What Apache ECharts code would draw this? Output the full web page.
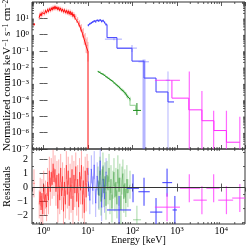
<!DOCTYPE html>
<html><head><meta charset="utf-8">
<script src="https://cdn.jsdelivr.net/npm/echarts@6/dist/echarts.min.js"></script>
<style>html,body{margin:0;padding:0;background:#fff}#c{width:249px;height:248px}</style>
</head><body><div id="c"></div>
<script>
// ---------- tick labels ----------
const xTickExp = [0, 1, 2, 3, 4];          // energy axis: 10^0 ... 10^4 keV
const yTickVals = [1e-7, 1e-6, 1e-5, 1e-4, 1e-3, 1e-2, 1e-1, 1, 10];
const yTickExp = ['−7', '−6', '−5', '−4', '−3', '−2', '−1', '0', '1'];
const rTickVals = [-2, -1, 0, 1, 2];
const rMinorVals = [-2.5, -1.5, -0.5, 0.5, 1.5, 2.5];
const minorMult = [2, 3, 4, 5, 6, 7, 8, 9];

// ---------- red instrument (0.6 - 10 keV) ----------
const red0 = { e: 0.61, eLo: 0.575, eHi: 0.645, v: 4.3, dex: 0.08, res: 0.3 };
const redE = [0.80,0.84,0.88,0.92,0.96,1.01,1.06,1.11,1.17,1.23,1.29,1.35,1.42,1.49,1.56,1.64,1.72,1.81,1.90,2.00,2.10,2.20,2.31,2.43,2.55,2.68,2.81,2.95,3.10,3.26,3.42,3.59,3.77,3.96,4.16,4.37,4.59,4.82,5.06,5.31,5.58,5.86,6.15,6.46,6.78,7.12,7.48,7.85,8.24,8.65,9.08,9.54,10.0];
const redV = [11,19,14,22,17,27,19,30,22,35,25,39,28,44,32,50,36,55,37,50,33,46,30,42,27,37,24,34,22,31,20,29,18,27,16,23,13,18,10.5,13,7.2,8.5,4.6,5.0,2.5,2.6,1.2,1.3,0.5,0.55,0.2,0.22,0.09];
const redErrDex = [0.14,0.13,0.13,0.12,0.12,0.11,0.11,0.1,0.1,0.1,0.1,0.09,0.09,0.09,0.09,0.09,0.09,0.09,0.09,0.09,0.09,0.09,0.09,0.09,0.09,0.09,0.1,0.1,0.1,0.1,0.1,0.1,0.1,0.11,0.11,0.11,0.12,0.12,0.13,0.13,0.14,0.15,0.16,0.18,0.2,0.22,0.25,0.28,0.32,0.36,0.42,0.5,0.6];
const redDropE = 10.0, redDropV = 1e-7;
const redRes = [-1.2,-0.3,-1.6,-0.4,-1.9,0.2,-1.0,-0.5,-1.4,0.4,-0.9,1.2,-0.3,1.1,0.2,1.7,0.4,1.3,-0.3,0.9,-1.5,1.0,-0.9,1.4,-0.6,0.8,-1.7,0.4,-1.2,1.6,-0.5,1.2,-1.3,0.7,-0.8,1.3,-1.6,0.9,-0.4,1.5,-1.0,0.6,-1.4,1.1,-0.2,1.6,-1.2,0.5,-1.8,1.2,-0.7,1.4,0.9];

// ---------- blue instrument ----------
const blueE = [10.2,11.0,11.9,12.8,13.8,14.9,16.1,17.4,18.8,20.3,21.9,23.6,25.5];
const blueV = [3.8,4.6,5.3,5.9,6.8,6.2,7.5,6.9,7.8,6.4,7.1,5.6,4.2];
const blueErrDex = [0.07,0.06,0.06,0.06,0.06,0.06,0.06,0.06,0.06,0.06,0.07,0.07,0.08];
const blueRes = [0.4,-0.9,1.3,-0.2,1.6,-1.1,0.8,-0.5,1.9,-1.4,0.6,-0.8,1.1];
const blueStepE = [26.8, 44.8, 97.6, 182, 339, 630, 860];
const blueStepV = [0.66, 0.148, 0.024, 2.2e-3, 3.1e-4, 7.6e-5];
const blueBinE = [38.4, 97.6, 182, 630];
const blueBinELo = [24, 45, 136, 560];
const blueBinEHi = [58, 126, 235, 700];
const blueBinV = [0.53, 0.15, 0.022, 1.6e-3];
const blueBinVLo = [0.46, 0.087, 0, 0];
const blueBinVHi = [0.6, 0.23, 0.030, 5.6e-3];
const blueResE = [50, 103, 182, 339, 600, 900];
const blueResELo = [26.8, 75, 136, 250, 470, 800];
const blueResEHi = [93, 140, 245, 470, 780, 1000];
const blueResV = [-1.6, -0.05, -0.3, -1.75, 0.35, -1.6];

// ---------- green instrument ----------
const greenE = [16.8,17.7,18.6,19.6,20.6,21.7,22.9,24.1,25.4,26.8,28.2,29.7,31.2,32.9,34.6,36.5,38.4,40.4,42.5,44.7,47.0,49.5,52.0,55.0,58.0,61.0,64.0,67.5,71.0,75.0,79.0,88.0];
const greenV = [5.6e-3,5.0e-3,5.2e-3,4.3e-3,4.0e-3,4.1e-3,3.4e-3,3.3e-3,2.7e-3,2.6e-3,2.2e-3,2.1e-3,1.8e-3,1.65e-3,1.5e-3,1.35e-3,1.1e-3,1.05e-3,9.0e-4,8.2e-4,6.9e-4,6.5e-4,5.6e-4,4.6e-4,4.2e-4,3.7e-4,3.3e-4,2.6e-4,2.4e-4,1.8e-4,1.5e-4,1.15e-4];
const greenErrDex = [0.04,0.04,0.04,0.04,0.04,0.04,0.04,0.04,0.05,0.05,0.05,0.05,0.05,0.05,0.05,0.06,0.06,0.06,0.06,0.07,0.07,0.07,0.08,0.08,0.09,0.09,0.1,0.1,0.11,0.12,0.13,0.14];
const greenRes = [0.5,-0.6,1.2,-1.0,0.3,1.5,-0.4,0.8,-1.3,0.9,-0.2,1.4,-0.9,0.6,-1.5,0.2,1.1,-0.7,0.4,-1.2,1.3,-0.3,0.7,-1.6,0.5,1.0,-0.8,0.3,-1.1,0.6,-0.4,0.2];
const greenStepE = [88, 118, 140];
const greenStepV = [4.7e-5, 2.3e-5];
const greenBin = { e: 126, eLo: 103, eHi: 156, v: 2.3e-5, vLo: 1.2e-5, vHi: 6.5e-5, res: -2.3 };

// ---------- magenta instrument ----------
const magE = [600, 1900, 3650, 6700, 13000, 26000];
const magELo = [320, 1170, 2350, 4600, 8500, 17500];
const magEHi = [1170, 3300, 4700, 9100, 18400, 38000];
const magV = [1.6e-3, 1.3e-4, 2.5e-5, 5.4e-6, 1.35e-6, 2.6e-7];
const magVLo = [1.6e-3, 0, 0, 0, 0, 0];
const magVHi = [1.6e-3, 5.6e-3, 3.5e-4, 2.2e-5, 2.2e-5, 9.5e-6];
const magRes = [-1.4, -0.05, -0.9, -0.05, -0.9, -0.75];
const magStepE = [772, 1850, 3650, 6800, 13000, 26000];
const magStepV = [1.3e-4, 2.5e-5, 5.4e-6, 1.35e-6, 2.6e-7];

// ---------- axes ranges ----------
const X_MIN = 0.55, X_MAX = 34000, Y_MIN = 1e-7, Y_MAX = 100, R_MIN = -2.6, R_MAX = 2.75;
const L = Math.log10;   // energy axis is a decade (log10) axis

const FONT = 'Liberation Serif';
const C = {
  red: '#ff0a0a', redL: 'rgba(255,60,60,0.42)',
  blue: '#3a3aff', blueL: 'rgba(90,90,255,0.45)',
  green: '#1f8f1f', greenL: 'rgba(60,170,60,0.45)',
  mag: '#ff30ff', magL: 'rgba(255,50,255,0.72)'
};

// ---------- helpers ----------
function clampY(v) { return v <= Y_MIN ? Y_MIN : v; }
function edgesOf(arr, i) {
  const lo = i > 0 ? Math.sqrt(arr[i - 1] * arr[i]) : arr[i] * arr[i] / Math.sqrt(arr[i] * arr[i + 1]);
  const hi = i < arr.length - 1 ? Math.sqrt(arr[i] * arr[i + 1]) : arr[i] * arr[i] / Math.sqrt(arr[i - 1] * arr[i]);
  return [lo, hi];
}
function seg(x1, y1, x2, y2, stroke, w) {
  return { type: 'line', shape: { x1, y1, x2, y2 }, style: { stroke, lineWidth: w } };
}
function row(e, y, el, eh, yl, yh) { return [L(e), y, L(el), L(eh), yl, yh]; }
function errBars(xi, yi, rows, color, w, z, widthFn) {
  return {
    type: 'custom', xAxisIndex: xi, yAxisIndex: yi, clip: true, silent: true, z: z,
    encode: { x: 0, y: 1 }, data: rows, animation: false,
    renderItem: function (params, api) {
      const x = api.value(0), y = api.value(1), xl = api.value(2), xh = api.value(3), yl = api.value(4), yh = api.value(5);
      const lw = widthFn ? widthFn(params.dataIndex) : w;
      const ch = [];
      if (yh > yl) { const a = api.coord([x, yl]), b = api.coord([x, yh]); ch.push(seg(a[0], a[1], b[0], b[1], color, lw)); }
      if (xh > xl) { const c = api.coord([xl, y]), d = api.coord([xh, y]); ch.push(seg(c[0], c[1], d[0], d[1], color, w)); }
      return { type: 'group', children: ch };
    }
  };
}
function lineSeries(xi, yi, pts, color, w, z) {
  return { type: 'line', xAxisIndex: xi, yAxisIndex: yi, data: pts.map(p => [L(p[0]), p[1]]), symbol: 'none', showSymbol: false,
    lineStyle: { color: color, width: w }, z: z, silent: true, animation: false, clip: true };
}
function stepPts(startV, edges, levels) {
  const p = [[edges[0], startV]];
  for (let i = 0; i < levels.length; i++) { p.push([edges[i], levels[i]]); p.push([edges[i + 1], levels[i]]); }
  return p;
}
function minorTicks(xi, yi, xv, yv, yRef, xRef) {
  const data = xv.map(v => [v, yRef, 0]).concat(yv.map(v => [xRef, v, 1]));
  return {
    type: 'custom', xAxisIndex: xi, yAxisIndex: yi, clip: false, silent: true, z: 20, data: data, animation: false,
    encode: { x: 0, y: 1 },
    renderItem: function (params, api) {
      const cs = params.coordSys;
      const p = api.coord([api.value(0), api.value(1)]);
      const col = '#333';
      if (api.value(2) === 0) {
        return { type: 'group', children: [seg(p[0], cs.y + cs.height, p[0], cs.y + cs.height - 2, col, 0.8), seg(p[0], cs.y, p[0], cs.y + 2, col, 0.8)] };
      }
      return { type: 'group', children: [seg(cs.x, p[1], cs.x + 2, p[1], col, 0.8), seg(cs.x + cs.width, p[1], cs.x + cs.width - 2, p[1], col, 0.8)] };
    }
  };
}
function logMinor(lo, hi) {
  const out = [];
  for (let k = -8; k <= 5; k++) for (const m of minorMult) { const v = m * Math.pow(10, k); if (v > lo && v < hi) out.push(v); }
  return out;
}
const richExp = {
  b: { fontFamily: FONT, fontSize: 10, color: '#000', lineHeight: 10, verticalAlign: 'bottom' },
  s: { fontFamily: FONT, fontSize: 7, color: '#000', lineHeight: 7, verticalAlign: 'top', padding: [0, 0, 6, 0] }
};
function xFmt(v) {
  const k = xTickExp.indexOf(Math.round(v));
  if (k < 0 || Math.abs(v - Math.round(v)) > 1e-6) return '';
  return '{b|10}{s|' + xTickExp[k] + '}';
}
function yFmt(v) {
  for (let i = 0; i < yTickVals.length; i++) if (Math.abs(Math.log10(v) - Math.log10(yTickVals[i])) < 1e-6) return '{b|10}{s|' + yTickExp[i] + '}';
  return '';
}

// ---------- build rows ----------
const redRowsU = redE.map((e, i) => { const [lo, hi] = edgesOf(redE, i); return row(e, redV[i], lo, hi, clampY(redV[i] / Math.pow(10, redErrDex[i])), redV[i] * Math.pow(10, redErrDex[i])); });
const redLine = redE.map((e, i) => [e, redV[i]]).concat([[redDropE, redDropV]]);
const red0Row = [row(red0.e, red0.v, red0.eLo, red0.eHi, red0.v / Math.pow(10, red0.dex), red0.v * Math.pow(10, red0.dex))];
const redRowsR = redE.map((e, i) => row(e, redRes[i], e, e, redRes[i] - 1, redRes[i] + 1)).concat([row(red0.e, red0.res, red0.eLo, red0.eHi, red0.res - 1, red0.res + 1)]);
const redResLine = redE.map((e, i) => [e, redRes[i]]);

const blueRowsU = blueE.map((e, i) => { const [lo, hi] = edgesOf(blueE, i); return row(e, blueV[i], lo, hi, blueV[i] / Math.pow(10, blueErrDex[i]), blueV[i] * Math.pow(10, blueErrDex[i])); });
const blueLine = blueE.map((e, i) => [e, blueV[i]]);
const blueStep = stepPts(blueV[blueV.length - 1], blueStepE, blueStepV);
const blueBinRows = blueBinE.map((e, i) => row(e, blueBinV[i], blueBinELo[i], blueBinEHi[i], clampY(blueBinVLo[i]), blueBinVHi[i]));
const blueRowsR = blueE.map((e, i) => { const [lo, hi] = edgesOf(blueE, i); return row(e, blueRes[i], lo, hi, blueRes[i] - 1, blueRes[i] + 1); });
const blueResLine = blueE.map((e, i) => [e, blueRes[i]]);
const blueResRows = blueResE.map((e, i) => row(e, blueResV[i], blueResELo[i], blueResEHi[i], blueResV[i] - 1, blueResV[i] + 1));

const greenRowsU = greenE.map((e, i) => { const [lo, hi] = edgesOf(greenE, i); return row(e, greenV[i], lo, hi, greenV[i] / Math.pow(10, greenErrDex[i]), greenV[i] * Math.pow(10, greenErrDex[i])); });
const greenLine = greenE.map((e, i) => [e, greenV[i]]);
const greenStep = stepPts(greenV[greenV.length - 1], greenStepE, greenStepV);
const greenBinRow = [row(greenBin.e, greenBin.v, greenBin.eLo, greenBin.eHi, greenBin.vLo, greenBin.vHi)];
const greenRowsR = greenE.map((e, i) => row(e, greenRes[i], e, e, greenRes[i] - 1, greenRes[i] + 1)).concat([row(greenBin.e, greenBin.res, greenBin.eLo, greenBin.eHi, greenBin.res - 1, greenBin.res + 1)]);
const greenResLine = greenE.map((e, i) => [e, greenRes[i]]);

const magRowsU = magE.map((e, i) => magVLo[i] === 0 ? row(e, magV[i], e, e, Y_MIN, magVHi[i]) : row(e, magV[i], magELo[i], magEHi[i], magVLo[i], magVHi[i]));
const magStep = stepPts(magV[0], magStepE, magStepV);
const magRowsR = magE.map((e, i) => row(e, magRes[i], magELo[i], magEHi[i], magRes[i] - 1, magRes[i] + 1));

// ---------- axes ----------
const tickStyle = { show: true, inside: true, length: 4, lineStyle: { color: '#333', width: 0.8 } };
function decX(grid, pos, labels) {
  return { type: 'value', gridIndex: grid, position: pos, min: L(X_MIN), max: L(X_MAX), splitNumber: 5,
    axisLine: { show: false }, splitLine: { show: false }, minorTick: { show: false }, axisTick: tickStyle,
    axisLabel: labels ? { show: true, margin: 2, showMinLabel: false, showMaxLabel: false, formatter: xFmt, rich: richExp } : { show: false } };
}
const xAxes = [decX(0, 'bottom', false), decX(0, 'top', false), decX(1, 'bottom', true), decX(1, 'top', false)];
xAxes[2].name = 'Energy [keV]';
xAxes[2].nameLocation = 'middle';
xAxes[2].nameGap = 11.5;
xAxes[2].nameMoveOverlap = false;
xAxes[2].nameTextStyle = { fontFamily: FONT, fontSize: 10, color: '#000' };

function logY(pos, labels) {
  return { type: 'log', logBase: 10, gridIndex: 0, position: pos, min: Y_MIN, max: Y_MAX, splitNumber: 9,
    axisLine: { show: false }, splitLine: { show: false }, minorTick: { show: false }, axisTick: tickStyle,
    axisLabel: labels ? { show: true, margin: 3, showMaxLabel: false, formatter: yFmt, rich: richExp } : { show: false } };
}
function resY(pos, labels) {
  return { type: 'value', gridIndex: 1, position: pos, min: R_MIN, max: R_MAX,
    axisLine: { show: false }, splitLine: { show: false }, minorTick: { show: false }, axisTick: tickStyle,
    axisLabel: labels ? { show: true, margin: 4, showMinLabel: false, showMaxLabel: false, fontFamily: FONT, fontSize: 10, color: '#000',
      formatter: v => rTickVals.indexOf(v) >= 0 ? (v < 0 ? '−' + (-v) : String(v)) : '' } : { show: false } };
}
const yAxes = [logY('left', true), logY('right', false), resY('left', true), resY('right', false)];
yAxes[0].name = '{n|Normalized counts keV}{s|−1}{n| s}{s|−1}{n| cm}{s|−2}';
yAxes[0].nameLocation = 'middle';
yAxes[0].nameRotate = 90;
yAxes[0].nameGap = 19;
yAxes[0].nameMoveOverlap = false;
yAxes[0].nameTextStyle = { fontFamily: FONT, fontSize: 11, color: '#000', rich: {
  n: { fontFamily: FONT, fontSize: 11, color: '#000', lineHeight: 11, verticalAlign: 'bottom' },
  s: { fontFamily: FONT, fontSize: 7.5, color: '#000', lineHeight: 7, verticalAlign: 'top', padding: [0, 0, 5, 0] } } };
yAxes[2].name = 'Residuals';
yAxes[2].nameLocation = 'middle';
yAxes[2].nameRotate = 90;
yAxes[2].nameGap = 19;
yAxes[2].nameMoveOverlap = false;
yAxes[2].nameTextStyle = { fontFamily: FONT, fontSize: 10.5, color: '#000' };

const series = [
  // upper panel
  errBars(0, 0, redRowsU, C.redL, 1, 2),
  errBars(0, 0, red0Row, C.red, 1, 4),
  lineSeries(0, 0, redLine, C.red, 1, 3),
  errBars(0, 0, blueRowsU, C.blue, 0.8, 4),
  lineSeries(0, 0, blueLine, C.blue, 0.7, 3),
  lineSeries(0, 0, blueStep, C.blue, 1, 3),
  errBars(0, 0, blueBinRows, C.blueL, 1.2, 4, i => i === 2 ? 3 : (i === 3 ? 1 : 1.2)),
  errBars(0, 0, greenRowsU, C.greenL, 1, 2),
  lineSeries(0, 0, greenLine, C.green, 1, 3),
  lineSeries(0, 0, greenStep, C.greenL, 1.2, 3),
  errBars(0, 0, greenBinRow, C.green, 1, 4),
  lineSeries(0, 0, magStep, C.mag, 1, 3),
  errBars(0, 0, magRowsU, C.magL, 1.2, 4),
  // residual panel
  errBars(2, 2, redRowsR, C.redL, 1, 2),
  lineSeries(2, 2, redResLine, 'rgba(255,20,20,0.75)', 0.7, 3),
  errBars(2, 2, blueRowsR, C.blueL, 1, 2),
  lineSeries(2, 2, blueResLine, 'rgba(60,60,255,0.7)', 0.7, 3),
  errBars(2, 2, blueResRows, C.blue, 1, 4),
  errBars(2, 2, greenRowsR, C.greenL, 1, 2),
  lineSeries(2, 2, greenResLine, 'rgba(30,140,30,0.6)', 0.6, 3),
  errBars(2, 2, magRowsR, C.magL, 1.2, 4),
  {
    type: 'line', xAxisIndex: 2, yAxisIndex: 2, data: [[L(X_MIN), 0]], symbol: 'none', lineStyle: { width: 0 }, z: 10, silent: true, animation: false,
    markLine: { silent: true, symbol: 'none', animation: false, label: { show: false }, data: [{ yAxis: 0 }], lineStyle: { color: '#333', width: 1, type: 'solid' } }
  },
  minorTicks(0, 0, logMinor(X_MIN, X_MAX).map(L), logMinor(Y_MIN, Y_MAX), 1e-3, 1),
  minorTicks(2, 2, logMinor(X_MIN, X_MAX).map(L), rMinorVals, 0, 1)
];

const chart = echarts.init(document.getElementById('c'), null, { renderer: 'canvas' });
chart.setOption({
  animation: false,
  backgroundColor: '#fff',
  grid: [
    { left: 32, top: 2, width: 213, height: 147, containLabel: false, outerBoundsMode: 'none', show: true, borderColor: '#333', borderWidth: 1, backgroundColor: 'transparent', z: 0 },
    { left: 32, top: 149, width: 213, height: 75, containLabel: false, outerBoundsMode: 'none', show: true, borderColor: '#333', borderWidth: 1, backgroundColor: 'transparent', z: 0 }
  ],
  xAxis: xAxes,
  yAxis: yAxes,
  series: series
});
</script></body></html>
